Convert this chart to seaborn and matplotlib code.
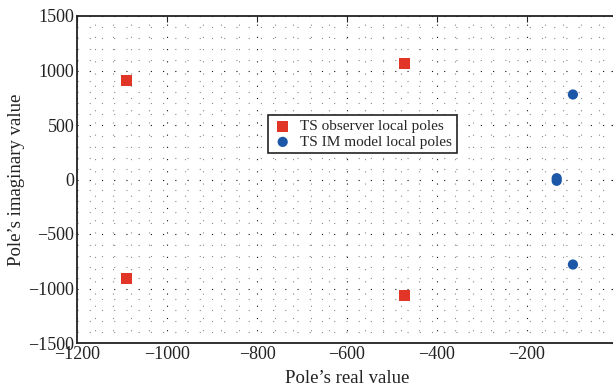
import matplotlib
matplotlib.use("Agg")
import matplotlib.pyplot as plt
import seaborn as sns
import pandas as pd
from matplotlib.ticker import MultipleLocator

# Data
obs_real = [-1090, -1090, -473, -473]
obs_imag = [910, -910, 1068, -1068]
im_real = [-98, -98, -134, -134]
im_imag = [780, -780, 12, -12]
series_names = ["TS observer local poles", "TS IM model local poles"]

obs_df = pd.DataFrame({"real": obs_real, "imag": obs_imag})
im_df = pd.DataFrame({"real": im_real, "imag": im_imag})

sns.set_theme(style="white")
plt.rcParams["font.family"] = ["Liberation Serif", "DejaVu Serif"]
plt.rcParams["axes.unicode_minus"] = True

fig = plt.figure(figsize=(6.13, 3.91), dpi=100)
W, H = 613, 391
x0, x1 = 77, 617
y0, y1 = 16, 343
ax = fig.add_axes([x0 / W, 1 - y1 / H, (x1 - x0) / W, (y1 - y0) / H])

sns.scatterplot(data=obs_df, x="real", y="imag", marker="s", s=64,
                color="#E03527", edgecolor="none", label=series_names[0],
                ax=ax, zorder=4)
sns.scatterplot(data=im_df, x="real", y="imag", marker="o", s=54,
                color="#1D57A8", edgecolor="none", label=series_names[1],
                ax=ax, zorder=4)

ax.set_xlim(-1200, 0)
ax.set_ylim(-1500, 1500)
ax.xaxis.set_major_locator(MultipleLocator(200))
ax.xaxis.set_minor_locator(MultipleLocator(40))
ax.yaxis.set_major_locator(MultipleLocator(500))
ax.yaxis.set_minor_locator(MultipleLocator(100))

ax.grid(which="major", color="#111111", linestyle=(0, (1, 10)), linewidth=0.8)
ax.grid(which="minor", color="#8a8a8a", linestyle=(0, (1, 10)), linewidth=0.8)
ax.set_axisbelow(True)

for sp in ax.spines.values():
    sp.set_color("#222222")
    sp.set_linewidth(1.3)

ax.tick_params(which="major", direction="in", length=4, width=0.8,
               top=True, right=True, labelsize=13, colors="#222222", pad=2)
ax.tick_params(which="minor", length=0)
for lab in ax.get_xticklabels() + ax.get_yticklabels():
    lab.set_color("#222222")

ax.set_xlabel("Pole\u2019s real value", fontsize=13.5, color="#222222", labelpad=5)
ax.set_ylabel("Pole\u2019s imaginary value", fontsize=13.5, color="#222222", labelpad=2)

leg = ax.legend(loc="upper left", bbox_to_anchor=(0.354, 0.697), borderaxespad=0,
                fontsize=11, frameon=True, fancybox=False, framealpha=1,
                edgecolor="#222222", handletextpad=0.5, borderpad=0.3,
                labelspacing=0.12, handlelength=1.3)
leg.get_frame().set_linewidth(1.2)

fig.savefig("out.png", dpi=100)
